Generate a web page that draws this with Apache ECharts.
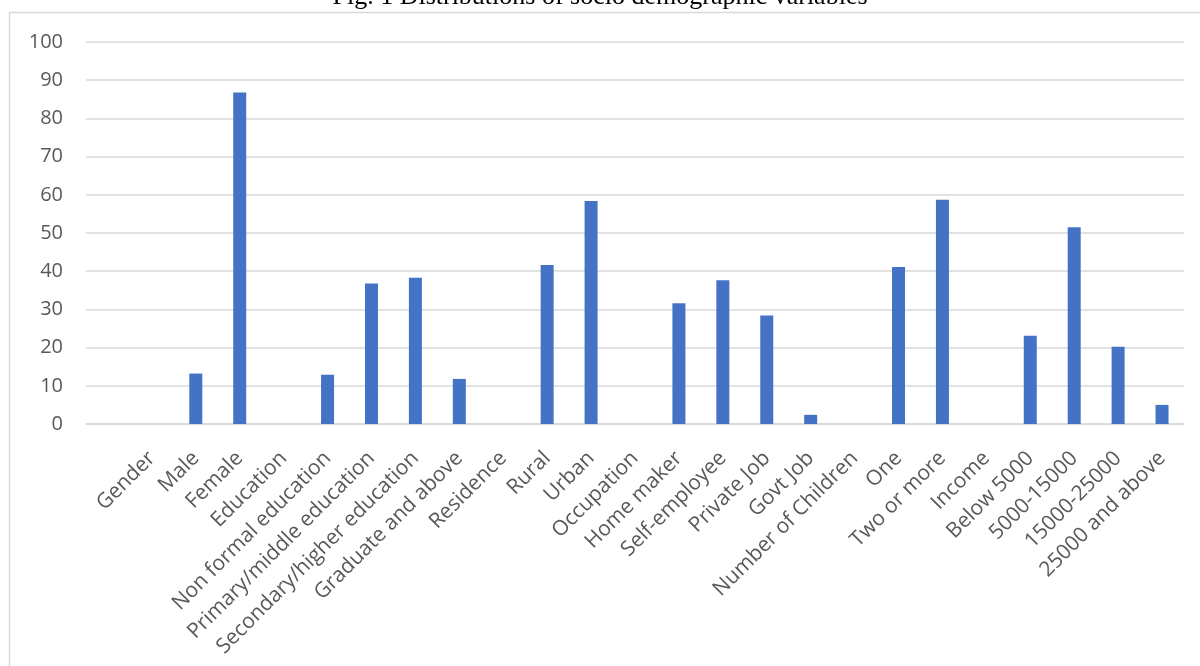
<!DOCTYPE html>
<html>
<head>
<meta charset="utf-8">
<script src="https://cdn.jsdelivr.net/npm/echarts@6/dist/echarts.min.js"></script>
<style>
html,body{margin:0;padding:0;background:#fff;}
#chart{width:1200px;height:666px;}
</style>
</head>
<body>
<div id="chart"></div>
<script>
var titleText = 'Fig. 1 Distributions of socio demographic variables';
var categories = ['', 'Gender', 'Male', 'Female', 'Education', 'Non formal education',
  'Primary/middle education', 'Secondary/higher education', 'Graduate and above',
  'Residence', 'Rural', 'Urban', 'Occupation', 'Home maker', 'Self-employee',
  'Private Job', 'Govt Job', 'Number of Children', 'One', 'Two or more', 'Income',
  'Below 5000', '5000-15000', '15000-25000', '25000 and above'];
var values = [null, null, 13.2, 86.8, null, 12.9, 36.8, 38.3, 11.8,
  null, 41.6, 58.4, null, 31.6, 37.6, 28.4, 2.4, null, 41.1, 58.7, null,
  23.1, 51.5, 20.2, 5.0];
var yTicks = { min: 0, max: 100, interval: 10 };

var chart = echarts.init(document.getElementById('chart'), null, { renderer: 'canvas' });
chart.setOption({
  animation: false,
  backgroundColor: '#fff',
  graphic: [
    { type: 'rect', silent: true, shape: { x: 9.5, y: 12.5, width: 1300, height: 800 },
      style: { fill: 'none', stroke: '#d9d9d9', lineWidth: 1.5 } },
    { type: 'text', silent: true, x: 600, y: -3,
      style: { text: titleText, fill: '#000', font: '26px "Liberation Serif"',
        textAlign: 'center', textVerticalAlign: 'middle' } }
  ],
  grid: { left: 86, right: 16, top: 42, bottom: 242 },
  xAxis: {
    type: 'category', data: categories,
    axisTick: { show: false },
    axisLine: { lineStyle: { color: '#d9d9d9', width: 1.5 } },
    axisLabel: { interval: 0, rotate: 45, margin: 31, color: '#595959',
      fontFamily: 'Open Sans', fontSize: 21 }
  },
  yAxis: {
    type: 'value', min: yTicks.min, max: yTicks.max, interval: yTicks.interval,
    axisLine: { show: false }, axisTick: { show: false },
    splitLine: { lineStyle: { color: '#d9d9d9', width: 1.5 } },
    axisLabel: { margin: 23, color: '#595959', fontFamily: 'Open Sans', fontSize: 20 }
  },
  series: [{
    type: 'bar', data: values, barWidth: 13,
    itemStyle: { color: '#4472C4' }
  }]
});
</script>
</body>
</html>
